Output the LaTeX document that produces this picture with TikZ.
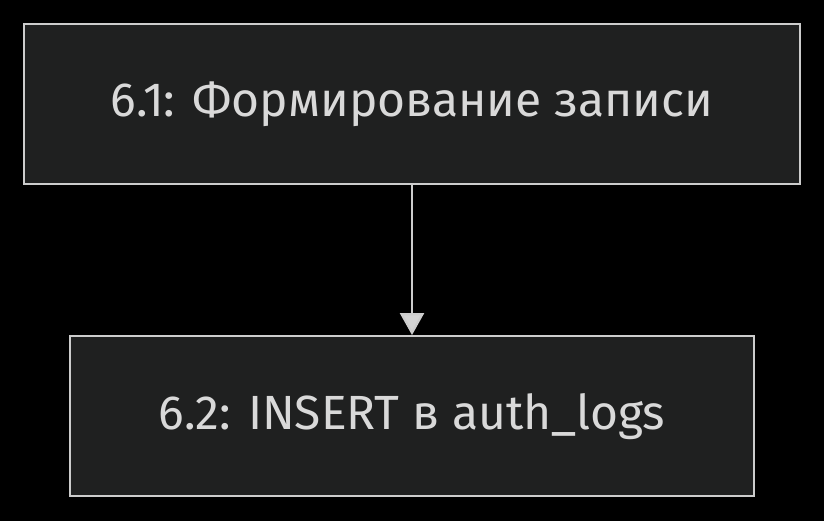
\documentclass[tikz,border=0pt]{standalone}
\usepackage{fontspec}
\setmainfont{Fira Sans}
\usepackage{tikz}
\usetikzlibrary{positioning,arrows.meta}

\definecolor{bgblack}{HTML}{000000}
\definecolor{boxfill}{HTML}{1F2020}
\definecolor{boxline}{HTML}{CCCCCC}
\definecolor{boxtext}{HTML}{D9D9D9}
\definecolor{arrowgrey}{HTML}{D3D3D3}

\begin{document}
\begin{tikzpicture}[
  x=1pt, y=1pt,
  stepbox/.style={draw=boxline, fill=boxfill, line width=2.2pt,
                  minimum height=160pt, text=boxtext,
                  inner sep=0pt, font=\fontsize{48}{56}\selectfont},
  flow/.style={draw=boxline, line width=2.2pt,
               -{Triangle[width=24pt, length=22pt, fill=arrowgrey]}}
]
\fill[bgblack] (0,0) rectangle (824,521);
\useasboundingbox (0,0) rectangle (824,521);

\node[stepbox, minimum width=776pt] (rec) at (412,417) {6.1: Формирование записи};
\node[stepbox, minimum width=684pt, below=150pt of rec] (ins) {6.2: INSERT в auth\_logs};

\draw[flow] (rec) -- (ins);

\end{tikzpicture}
\end{document}
